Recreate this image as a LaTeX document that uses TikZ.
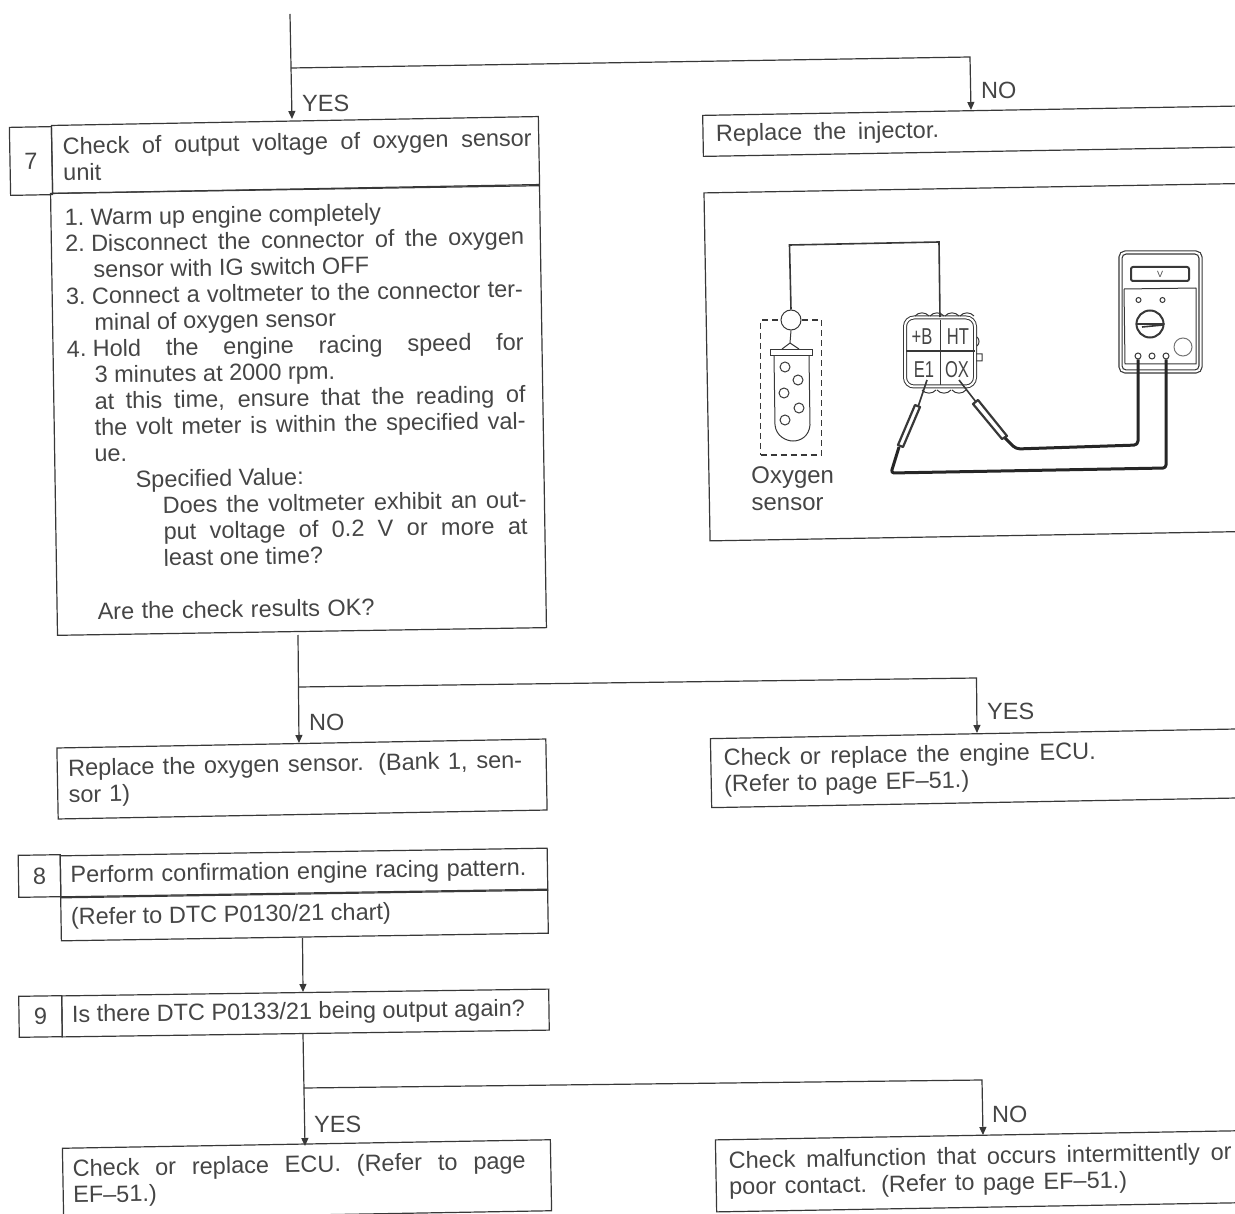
\documentclass[tikz,border=0pt]{standalone}
\usepackage{fontspec}
\setmainfont{Liberation Sans}
\usetikzlibrary{arrows.meta}
\newcommand{\jline}[2]{\makebox[#1][s]{\spaceskip=0pt\xspaceskip=0pt\relax #2}}
\newcommand{\numitem}[1]{\makebox[26pt][l]{#1}}
\definecolor{ink}{gray}{0.27}
\definecolor{wire}{gray}{0.22}
\tikzset{
  stepbox/.style={draw=wire,line width=1.2pt,rotate=#1,inner xsep=10pt,inner ysep=0pt,align=left,text=ink},
  stepbox/.default=1.05,
  flow/.style={draw=wire,line width=1.2pt},
  flowarrow/.style={flow,-{Triangle[length=8pt,width=7pt]}},
  answer/.style={text=ink,inner sep=0pt,anchor=west},
  part/.style={draw=wire,line width=1pt},
  bubble/.style={draw=wire,line width=1pt,circle,inner sep=0pt,minimum size=10pt},
  lead/.style={draw=black!85,line width=3pt,line join=round},
  pin/.style={text=ink,inner sep=0pt,xscale=0.72,font=\fontsize{23}{23}\selectfont}
}
\begin{document}
\begin{tikzpicture}[x=1pt,y=-1pt,font=\fontsize{23.5}{26.3}\selectfont]
\useasboundingbox (0,0) rectangle (1235,1214);
% step 7
\node[stepbox,minimum width=42pt,minimum height=68pt,align=center,inner xsep=0pt] (numseven) at (31,161) {7};
\node[stepbox,minimum width=487pt,minimum height=68pt,inner xsep=9pt,text width=469pt] (headseven) at (295.5,155)
  {\hspace*{2pt}\jline{469pt}{Check of output voltage of oxygen sensor}\\\hspace*{2pt}unit};
\node[stepbox=0.9,minimum width=489pt,minimum height=442pt] (bodyseven) at (298.5,410.5) {};
\node[stepbox=0.9,draw=none,inner sep=0pt,anchor=north west] (textseven) at (64,208) {%
  \numitem{1.}Warm up engine completely\\
  \numitem{2.}\jline{433pt}{Disconnect the connector of the oxygen}\\
  \hspace*{28pt}sensor with IG switch OFF\\
  \numitem{3.}\jline{431pt}{Connect a voltmeter to the connector ter-}\\
  \hspace*{28pt}minal of oxygen sensor\\
  \numitem{4.}\jline{431pt}{Hold the engine racing speed for}\\
  \hspace*{27.5pt}3 minutes at 2000 rpm.\\
  \hspace*{27pt}\jline{431pt}{at this time, ensure that the reading of}\\
  \hspace*{26.7pt}\jline{431pt}{the volt meter is within the specified val-}\\
  \hspace*{26pt}ue.\\
  \hspace*{66.8pt}Specified Value:\\
  \hspace*{93.4pt}\jline{364pt}{Does the voltmeter exhibit an out-}\\
  \hspace*{94pt}\jline{364pt}{put voltage of 0.2 V or more at}\\
  \hspace*{93.6pt}least one time?\\[26.3pt]
  \hspace*{26.7pt}\jline{277pt}{Are the check results OK?}};
% right column, top
\node[stepbox=1,minimum width=560pt,minimum height=41pt,inner xsep=13pt,text width=534pt] (injector) at (983,131) {\jline{223pt}{Replace the injector.}};
\node[stepbox=1,minimum width=560pt,minimum height=348pt] (frame) at (987,362) {};
% results of step 7
\node[stepbox,minimum width=489pt,minimum height=71pt,inner xsep=11pt,text width=467pt] (oxygen) at (302,779)
  {\jline{454pt}{Replace the oxygen sensor. (Bank 1, sen-}\\sor 1)};
\node[stepbox,minimum width=560pt,minimum height=69pt,inner xsep=13pt,text width=534pt] (engineecu) at (991,768)
  {\jline{372pt}{Check or replace the engine ECU.}\\\jline{245pt}{(Refer to page EF–51.)}};
% step 8
\node[stepbox=0.9,minimum width=42pt,minimum height=42pt,align=center,inner xsep=0pt] (numeight) at (39.5,876) {8};
\node[stepbox=0.9,minimum width=487pt,minimum height=42pt,text width=467pt] (headeight) at (304,873) {\jline{456pt}{Perform confirmation engine racing pattern.}};
\node[stepbox=0.9,minimum width=487pt,minimum height=44pt,text width=467pt] (bodyeight) at (304.5,915) {\jline{320pt}{(Refer to DTC P0130/21 chart)}};
% step 9
\node[stepbox=0.8,minimum width=43pt,minimum height=41pt,align=center,inner xsep=0pt] (numnine) at (40.5,1016.5) {9};
\node[stepbox=0.8,minimum width=487pt,minimum height=41pt,text width=467pt] (headnine) at (305.5,1013) {\jline{453pt}{Is there DTC P0133/21 being output again?}};
% results of step 9
\node[stepbox=1,minimum width=488pt,minimum height=71pt,text width=468pt] (ecu) at (307,1179.5)
  {\jline{453pt}{Check or replace ECU. (Refer to page}\\EF–51.)};
\node[stepbox=1,minimum width=560pt,minimum height=72pt,inner xsep=13pt,text width=534pt] (malfunction) at (996,1171)
  {\jline{503pt}{Check malfunction that occurs intermittently or}\\\jline{398pt}{poor contact. (Refer to page EF–51.)}};
% connectors
\coordinate (start) at (290,14);
\coordinate (endone) at (292,119);
\coordinate (forkone) at (291,68);
\coordinate (cornerone) at (970,57);
\coordinate (endoneb) at (971,110);
\coordinate (outseven) at (298,635);
\coordinate (endtwo) at (299,743);
\coordinate (forktwo) at (298.5,687);
\coordinate (cornertwo) at (976.5,678);
\coordinate (endtwob) at (977,733);
\coordinate (outeight) at (302.5,938);
\coordinate (inine) at (303,992);
\coordinate (outnine) at (303,1034);
\coordinate (endthree) at (305,1146);
\coordinate (forkthree) at (303.6,1088);
\coordinate (cornerthree) at (982,1080);
\coordinate (endthreeb) at (983,1135);
\draw[flowarrow] (start) -- (endone);
\draw[flowarrow] (forkone) -- (cornerone) -- (endoneb);
\draw[flowarrow] (outseven) -- (endtwo);
\draw[flowarrow] (forktwo) -- (cornertwo) -- (endtwob);
\draw[flowarrow] (outeight) -- (inine);
\draw[flowarrow] (outnine) -- (endthree);
\draw[flowarrow] (forkthree) -- (cornerthree) -- (endthreeb);
\node[answer] (yesone) at (302,103) {YES};
\node[answer] (noone) at (981,90) {NO};
\node[answer] (notwo) at (309,722) {NO};
\node[answer] (yestwo) at (987,711) {YES};
\node[answer] (yesthree) at (314,1124) {YES};
\node[answer] (nothree) at (992,1114) {NO};
% oxygen sensor
\node[draw=wire,line width=1.7pt,dash pattern=on 6pt off 4pt,minimum width=61pt,minimum height=135pt,inner sep=0pt] (sensorframe) at (791,387.5) {};
\node[bubble,fill=white,minimum size=20pt] (sensorhead) at (791,320) {};
\draw[part] (sensorhead.south) -- (790,343) (782,349) -- (790,343) -- (799,349);
\draw[part,fill=white] (770,350) rectangle (812,356);
\draw[part] (774,356) -- (775,425) .. controls (776,436) and (786,441) .. (793,441) .. controls (801,441) and (809,436) .. (810,425) -- (809,356);
\foreach \cx/\cy [count=\i] in {785/367,798/380,784/393,799/408,785/420}
  \node[bubble] (bead\i) at (\cx,\cy) {};
\node[text=ink,inner sep=0pt,anchor=north west,align=left,rotate=0.5,font=\fontsize{24}{27}\selectfont] (sensorlabel) at (751,467) {Oxygen\\sensor};
% connector
\node[draw=wire,line width=1pt,double=white,double distance=2pt,rounded corners=9pt,minimum width=70pt,minimum height=69pt,inner sep=0pt] (plug) at (940,352) {};
\draw[part,line width=1.4pt] (940.5,320) -- (940.5,385) (906,351) -- (975,351);
\foreach \x in {915,930,945,960} \draw[part] (\x,316) to[bend left=50] ++(14,0);
\foreach \x in {922,937,952} \draw[part] (\x,390) to[bend right=50] ++(14,0);
\draw[part] (977,337) to[bend left=50] ++(0,9) (976,354) -- ++(6,0) -- ++(0,7) -- ++(-6,0);
\node[pin] (pinb) at (922,337) {+B};
\node[pin] (pinht) at (958,337) {HT};
\node[pin] (pine) at (924,370) {E1};
\node[pin] (pinox) at (957,370) {OX};
\draw[part,line width=1.6pt] (sensorhead.north) -- (789.5,245) -- (939,242) -- (940,317);
% voltmeter
\node[draw=wire,line width=1.2pt,double=white,double distance=2pt,rounded corners=5pt,minimum width=80pt,minimum height=119pt,inner sep=0pt] (meter) at (1160.5,312) {};
\node[draw=wire,line width=2pt,rounded corners=2pt,minimum width=58pt,minimum height=14pt,inner sep=0pt,font=\fontsize{9}{9}\selectfont,text=ink] (display) at (1160,274) {V};
\draw[part] (1124,289) -- (1196,288) (1124,289) -- (1125,364) -- (1196,364) -- (1196,288);
\node[bubble,minimum size=5pt] (ledleft) at (1138.5,300) {};
\node[bubble,minimum size=5pt] (ledright) at (1162.5,300) {};
\node[bubble,line width=2pt,minimum size=27pt] (dial) at (1150,324) {};
\draw[part,line width=1.6pt] (dial.west) -- (dial.east) (1142,327) -- (1163,325);
\node[bubble,draw=wire!70,minimum size=18pt] (knob) at (1183,347) {};
\node[bubble,minimum size=6pt] (termleft) at (1138,356) {};
\node[bubble,minimum size=6pt] (termmid) at (1152,356) {};
\node[bubble,minimum size=6pt] (termright) at (1166,356) {};
% test leads
\draw[part,line width=1.6pt] (927,380) -- (918,407);
\draw[part,line width=2.2pt,fill=white,line join=round] (915,405) -- (920,407) -- (903,447) -- (898,445) -- cycle;
\draw[part,line width=1.6pt] (959,380) -- (976,402);
\draw[part,line width=2.2pt,fill=white,line join=round] (973,404) -- (978,400) -- (1007,436) -- (1002,439) -- cycle;
\draw[lead,rounded corners=3pt] (899,447) -- (891,473) -- (1166,468) -- (termright.south);
\draw[lead,rounded corners=4pt] (1005,438) -- (1016,449) -- (1138,445) -- (termleft.south);
\end{tikzpicture}
\end{document}
